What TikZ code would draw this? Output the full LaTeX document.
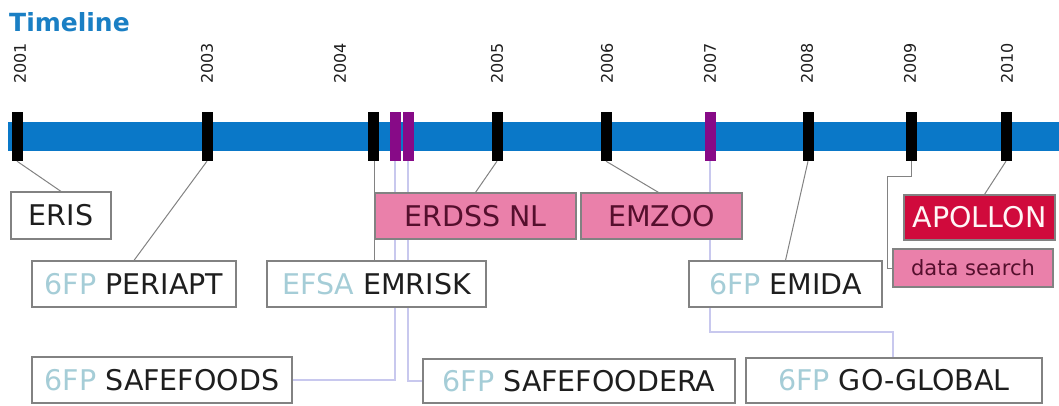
\documentclass[tikz,border=0pt]{standalone}
\usepackage{fontspec}
\setmainfont{DejaVu Sans}
\usetikzlibrary{calc}
\definecolor{barblue}{RGB}{10,120,200}
\definecolor{titleblue}{RGB}{26,127,196}
\definecolor{mpurple}{RGB}{135,10,135}
\definecolor{pinkfill}{RGB}{234,128,170}
\definecolor{crimson}{RGB}{208,10,60}
\definecolor{txtdark}{RGB}{30,30,30}
\definecolor{txtpale}{RGB}{165,205,215}
\definecolor{txtmaroon}{RGB}{85,15,45}
\definecolor{boxline}{RGB}{130,130,130}
\definecolor{lav}{RGB}{200,200,238}
\tikzset{
  marker/.style={fill=black,draw=none,minimum width=11pt,minimum height=49pt,inner sep=0pt},
  pmarker/.style={marker,fill=mpurple},
  year/.style={rotate=90,anchor=west,inner sep=0pt,font=\fontsize{16}{16}\selectfont,text=txtdark},
  box/.style={draw=boxline,line width=1.2pt,fill=white,inner sep=0pt,text=txtdark,font=\fontsize{28.5}{28.5}\selectfont},
  pbox/.style={box,fill=pinkfill,text=txtmaroon},
  conn/.style={draw=boxline,line width=1pt},
  lconn/.style={draw=lav,line width=1.2pt}
}
\newcommand{\pl}[1]{\textcolor{txtpale}{#1}}
\begin{document}
\begin{tikzpicture}[x=1pt,y=-1pt]
\useasboundingbox (0,0) rectangle (1059,405);
% title
\node[anchor=west,inner sep=0pt,text=titleblue,font=\fontsize{25}{25}\selectfont\bfseries] (title) at (9,22) {Timeline};
% bar
\node[fill=barblue,draw=none,inner sep=0pt,minimum width=1051pt,minimum height=29pt,anchor=west] (bar) at (8,136.5) {};
% markers
\node[marker] (m2001) at (17,136.5) {};
\node[marker] (m2003) at (207,136.5) {};
\node[marker] (m2004) at (373,136.5) {};
\node[pmarker] (p1) at (395,136.5) {};
\node[pmarker] (p2) at (408,136.5) {};
\node[marker] (m2005) at (497,136.5) {};
\node[marker] (m2006) at (606,136.5) {};
\node[pmarker] (p3) at (710,136.5) {};
\node[marker] (m2008) at (808,136.5) {};
\node[marker] (m2009) at (911,136.5) {};
\node[marker] (m2010) at (1006,136.5) {};
% years
\node[year] (y2001) at (20,84) {2001};
\node[year] (y2003) at (207,84) {2003};
\node[year] (y2004) at (340,84) {2004};
\node[year] (y2005) at (497,84) {2005};
\node[year] (y2006) at (607,84) {2006};
\node[year] (y2007) at (710,84) {2007};
\node[year] (y2008) at (807,84) {2008};
\node[year] (y2009) at (910,84) {2009};
\node[year] (y2010) at (1007,84) {2010};
% lavender connectors (behind boxes)
\coordinate (sfk) at (395,380);
\coordinate (sfek) at (408,381);
\coordinate (ggk) at (710,332);
\draw[lconn] (p1.south) -- (sfk) -- (292,380);
\draw[lconn] (p2.south) -- (sfek) -- (423,381);
\draw[lconn] (p3.south) -- (ggk) -- (893,332) -- (893,358);
% boxes
\node[box,minimum width=100pt,minimum height=47pt] (eris) at (61,215.5) {ERIS};
\node[box,minimum width=204pt,minimum height=46pt] (periapt) at (134,284) {\pl{6FP} PERIAPT};
\node[box,minimum width=219pt,minimum height=46pt] (emrisk) at (376.5,284) {\pl{EFSA} EMRISK};
\node[box,minimum width=260pt,minimum height=46pt] (safefoods) at (162,380) {\pl{6FP} SAFEFOODS};
\node[box,minimum width=312pt,minimum height=44pt] (safefoodera) at (579,381) {\pl{6FP} SAFEFOODERA};
\node[pbox,minimum width=201pt,minimum height=46pt] (erdss) at (475.5,216) {ERDSS NL};
\node[pbox,minimum width=161pt,minimum height=46pt] (emzoo) at (661.5,216) {EMZOO};
\node[box,minimum width=193pt,minimum height=46pt] (emida) at (785.5,284) {\pl{6FP} EMIDA};
\node[box,minimum width=296pt,minimum height=45pt] (goglobal) at (894,380.5) {\pl{6FP} GO-GLOBAL};
\node[pbox,fill=crimson,text=white!85!pink,minimum width=151pt,minimum height=45pt] (apollon) at (979.5,217.5) {APOLLON};
\node[pbox,minimum width=160pt,minimum height=38pt,font=\fontsize{21}{21}\selectfont] (datasearch) at (973,268) {data search};
% gray connectors
\draw[conn] (m2001.south) -- (eris.north);
\draw[conn] (m2003.south) -- (periapt.north);
\draw[conn] ($(m2004.south)+(1,0)$) -- ($(m2004.south|-emrisk.north)+(1,0)$);
\draw[conn] (m2005.south) -- (erdss.north);
\draw[conn] (m2006.south) -- ($(emzoo.north)+(-3,0)$);
\draw[conn] (m2008.south) -- (emida.north);
\draw[conn] (m2010.south) -- ($(apollon.north)+(5,0)$);
\coordinate (dk1) at (911,176);
\coordinate (dk2) at (887,176);
\draw[conn] (m2009.south) -- (dk1) -- (dk2) |- (datasearch.west);
\end{tikzpicture}
\end{document}
